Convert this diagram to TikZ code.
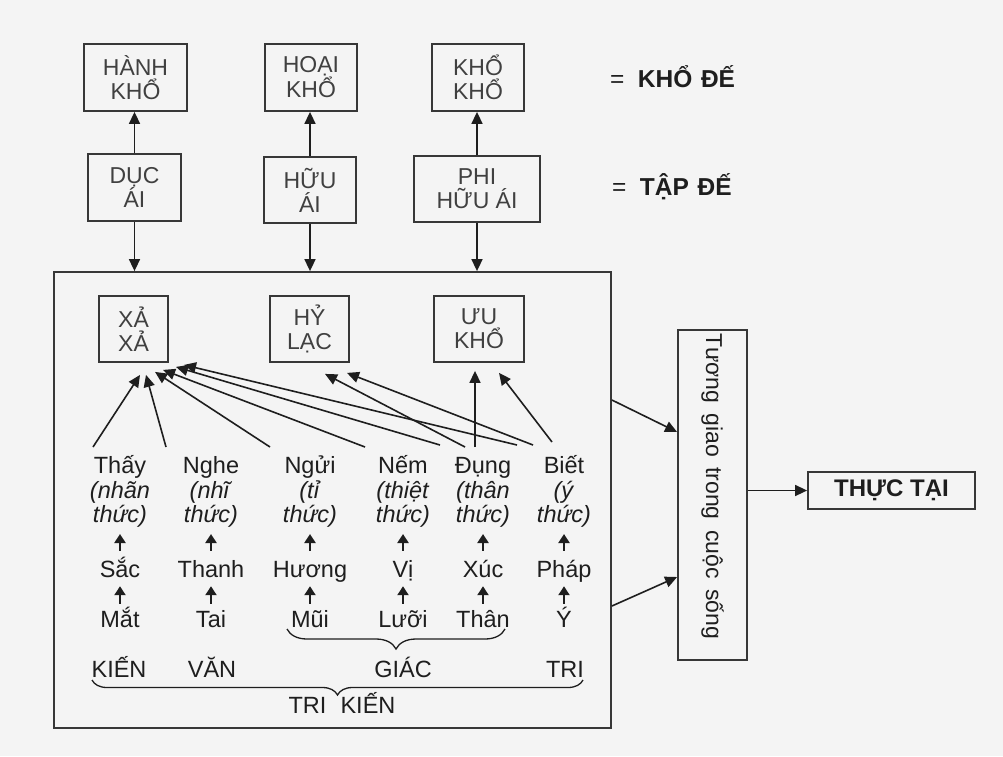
\documentclass[tikz,border=0pt]{standalone}
\usepackage{fontspec}
\setmainfont{Liberation Sans}
\usepackage{graphicx}
\usetikzlibrary{arrows.meta,calc,decorations.pathreplacing}
\definecolor{bg}{RGB}{244,244,244}
\definecolor{ink}{RGB}{30,30,30}
\definecolor{boxline}{RGB}{55,55,55}
\begin{document}
\begin{tikzpicture}[x=1pt,y=-1pt,
  box/.style={draw=boxline, line width=1.8pt, inner sep=0pt, align=center, text=ink!85, font=\fontsize{23}{24}\selectfont},
  arr/.style={draw=ink, line width=1.6pt, -{Triangle[length=12pt,width=11pt]}},
  sarr/.style={draw=ink, line width=2.2pt, -{Triangle[length=9pt,width=11pt]}},
  sense/.style={inner sep=0pt, align=center, text=ink, font=\fontsize{23.5}{24.5}\selectfont, anchor=south},
  word/.style={inner sep=0pt, text=ink, font=\fontsize{23.5}{24}\selectfont, anchor=base, text height=16pt, text depth=5pt},
  lbl/.style={inner sep=0pt, text=ink, font=\fontsize{23.5}{24}\selectfont, anchor=base},
  brc/.style={draw=ink, line width=1.3pt, decorate, decoration={brace, mirror, amplitude=#1}},
]
\fill[bg] (0,0) rectangle (1003,756);
\useasboundingbox (0,0) rectangle (1003,756);

% top rows
\node[box, minimum width=103pt, minimum height=67pt] (hk) at (135.5,77.5) {HÀNH\\KHỔ};
\node[box, minimum width=92pt, minimum height=67pt] (hoai) at (311,77.5) {HOẠI\\KHỔ};
\node[box, minimum width=92pt, minimum height=67pt] (kk) at (478,77.5) {KHỔ\\KHỔ};
\node[box, minimum width=93pt, minimum height=67pt] (dai) at (134.5,187.5) {DỤC\\ÁI};
\node[box, minimum width=92pt, minimum height=66pt] (hai) at (310,190) {HỮU\\ÁI};
\node[box, minimum width=126pt, minimum height=66pt] (pha) at (477,189) {PHI\\HỮU ÁI};

\node[lbl, anchor=west, font=\fontsize{24.5}{24}\selectfont] (khode) at (610,77) {=\hspace{0.55em}\textbf{KHỔ\hspace{0.35em}ĐẾ}};
\node[lbl, anchor=west, font=\fontsize{24.5}{24}\selectfont] (tapde) at (612,187) {=\hspace{0.55em}\textbf{TẬP\hspace{0.35em}ĐẾ}};

% big frame
\node[draw=boxline, line width=1.8pt, minimum width=557pt, minimum height=456pt, inner sep=0pt] (big) at (332.5,500) {};

\draw[arr] (dai.north) -- (dai.north |- hk.south);
\draw[arr] (hai.north) -- (hai.north |- hoai.south);
\draw[arr] (pha.north) -- (pha.north |- kk.south);
\draw[arr] (dai.south) -- (dai.south |- big.north);
\draw[arr] (hai.south) -- (hai.south |- big.north);
\draw[arr] (pha.south) -- (pha.south |- big.north);

% feeling boxes
\node[box, minimum width=69pt, minimum height=66pt] (xx) at (133.5,329) {XẢ\\XẢ};
\node[box, minimum width=79pt, minimum height=66pt] (hl) at (309.5,329) {HỶ\\LẠC};
\node[box, minimum width=90pt, minimum height=66pt] (uk) at (479,329) {ƯU\\KHỔ};

% right side
\node[box, minimum width=69pt, minimum height=330pt, text=ink] (tg) at (712.5,495)
  {\rotatebox{-90}{\fontsize{23}{24}\selectfont\spaceskip=0.45em plus 0.1em Tương giao trong cuộc sống\hspace{18pt}}};
\node[box, minimum width=167pt, minimum height=37pt, text=ink, font=\fontsize{24}{24}\selectfont\bfseries] (tt) at (891.5,490.5) {THỰC TẠI};

\draw[arr] ($(big.east)+(0,-100)$) -- ($(tg.west)+(0,-63)$);
\draw[arr] ($(big.east)+(0,106)$) -- ($(tg.west)+(0,82)$);
\draw[arr] (tt.west -| tg.east) -- (tt.west);

% senses
\node[sense] (thay) at (120,528) {Thấy\\\textit{(nhãn}\\\textit{thức)}};
\node[sense] (nghe) at (211,528) {Nghe\\\textit{(nhĩ}\\\textit{thức)}};
\node[sense] (ngui) at (310,528) {Ngửi\\\textit{(tỉ}\\\textit{thức)}};
\node[sense] (nem) at (403,528) {Nếm\\\textit{(thiệt}\\\textit{thức)}};
\node[sense] (dung) at (483,528) {Đụng\\\textit{(thân}\\\textit{thức)}};
\node[sense] (biet) at (564,528) {Biết\\\textit{(ý}\\\textit{thức)}};

\node[word] (sac) at (120,577) {Sắc};
\node[word] (thanh) at (211,577) {Thanh};
\node[word] (huong) at (310,577) {Hương};
\node[word] (vi) at (403,577) {Vị};
\node[word] (xuc) at (483,577) {Xúc};
\node[word] (phap) at (564,577) {Pháp};

\node[word] (mat) at (120,627) {Mắt};
\node[word] (tai) at (211,627) {Tai};
\node[word] (mui) at (310,627) {Mũi};
\node[word] (luoi) at (403,627) {Lưỡi};
\node[word] (than) at (483,627) {Thân};
\node[word] (yy) at (564,627) {Ý};

\foreach \a/\b in {sac/thay,thanh/nghe,huong/ngui,vi/nem,xuc/dung,phap/biet}
  \draw[sarr, shorten <=10pt, shorten >=6pt] (\a.north) -- (\b.south);
\foreach \a/\b in {mat/sac,tai/thanh,mui/huong,luoi/vi,than/xuc,yy/phap}
  \draw[sarr, shorten <=7pt, shorten >=4pt] (\a.north) -- (\b.south);

\node[lbl] (kien) at (119,677) {KIẾN};
\node[lbl] (van) at (212,677) {VĂN};
\node[lbl] (giac) at (403,677) {GIÁC};
\node[lbl] (tri) at (565,677) {TRI};
\node[lbl] (trikien) at (342,713) {TRI\hspace{0.6em}KIẾN};

\draw[brc=20pt] (287,629) -- (505,629);
\draw[brc=15pt] (92,680) -- (583,680);

% connectors to feelings
\coordinate (p1) at (93,447);
\coordinate (p2) at (166,447);
\coordinate (p3) at (270,447);
\coordinate (p4) at (365,447);
\coordinate (p5) at (440,445);
\coordinate (p6) at (465,447);
\coordinate (p7) at (475,447);
\coordinate (p8) at (517,445);
\coordinate (p9) at (533,445);
\coordinate (p10) at (552,442);
\draw[arr] (p1) -- ($(xx.south)+(6.5,12)$);
\draw[arr] (p2) -- ($(xx.south)+(12.5,12)$);
\draw[arr] (p3) -- ($(xx.south)+(21.5,9)$);
\draw[arr] (p4) -- ($(xx.south)+(29.5,7)$);
\draw[arr] (p5) -- ($(xx.south)+(42.5,4)$);
\draw[arr] (p8) -- ($(xx.south)+(50.5,2)$);
\draw[arr] (p6) -- ($(hl.south)+(15.5,11)$);
\draw[arr] (p9) -- ($(hl.south)+(37.5,10)$);
\draw[arr] (p7) -- ($(uk.south)+(-4,8)$);
\draw[arr] (p10) -- ($(uk.south)+(20,10)$);
\end{tikzpicture}
\end{document}
